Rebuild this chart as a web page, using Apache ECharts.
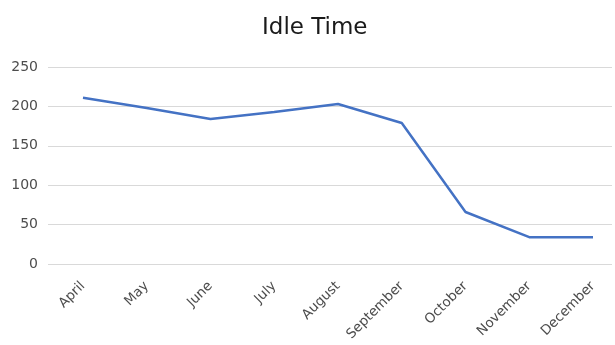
<!DOCTYPE html>
<html><head><meta charset="utf-8">
<script src="https://cdn.jsdelivr.net/npm/echarts@6/dist/echarts.min.js"></script>
<style>html,body{margin:0;padding:0;background:#fff}#c{width:615px;height:345px}</style>
</head><body><div id="c"></div>
<script>
var categories = ['April','May','June','July','August','September','October','November','December'];
var idleTime = [211, 198, 184, 193, 203, 179, 66, 34, 34];
var yTicks = [0, 50, 100, 150, 200, 250];

var chart = echarts.init(document.getElementById('c'));
var font = '"DejaVu Sans", sans-serif';
chart.setOption({
  animation: false,
  backgroundColor: '#ffffff',
  title: {
    text: 'Idle Time', left: 257, top: 12,
    textStyle: { fontFamily: font, fontSize: 23, fontWeight: 'normal', color: '#1a1a1a' }
  },
  grid: [
    { left: 83, right: 22, top: 67, bottom: 81 },
    { left: 48, right: 3, top: 67, bottom: 81 }
  ],
  xAxis: [
    {
      gridIndex: 0, type: 'category', data: categories, boundaryGap: false,
      axisLine: { show: false }, axisTick: { show: false },
      axisLabel: { rotate: 45, margin: 20, interval: 0, color: '#4d4d4d', fontSize: 13.5, fontFamily: font }
    },
    { gridIndex: 1, type: 'value', show: false, min: 0, max: 1 }
  ],
  yAxis: [
    { gridIndex: 0, type: 'value', min: 0, max: yTicks[yTicks.length - 1], interval: 50, show: false },
    {
      gridIndex: 1, type: 'value', min: yTicks[0], max: yTicks[yTicks.length - 1], interval: 50,
      axisLine: { show: false }, axisTick: { show: false },
      axisLabel: { color: '#4d4d4d', fontSize: 14, fontFamily: font, margin: 10 },
      splitLine: { lineStyle: { color: '#d9d9d9', width: 1 } }
    }
  ],
  series: [{
    type: 'line', xAxisIndex: 0, yAxisIndex: 0, data: idleTime,
    showSymbol: false, symbol: 'none',
    lineStyle: { color: '#4472C4', width: 2.5 }
  }]
});
</script></body></html>
